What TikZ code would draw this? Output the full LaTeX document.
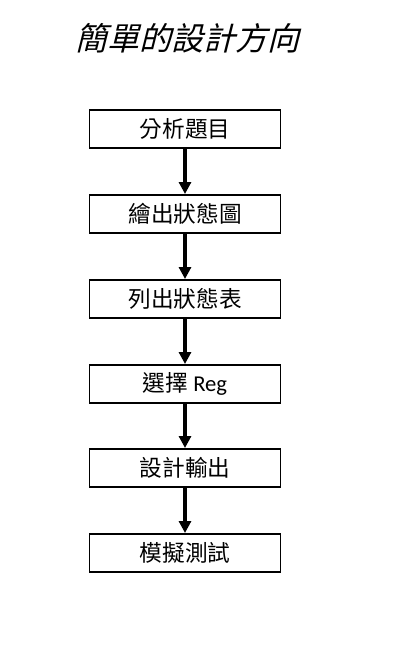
\documentclass[tikz,border=0pt]{standalone}
\usepackage{fontspec}
\newfontfamily\cjk{Noto Sans CJK TC}
\newfontfamily\cjkslant[FakeSlant=0.25]{Noto Sans CJK TC}
\newfontfamily\latinsans{Carlito}
\usetikzlibrary{arrows.meta}
\tikzset{
  stepbox/.style={draw=black, line width=0.9pt, minimum width=143.25pt, minimum height=28.5pt, inner sep=0pt, font=\cjk\fontsize{17}{19}\selectfont, fill=white},
  flow/.style={line width=3pt, -{Triangle[width=9pt,length=9pt]}, shorten >=0.3pt}
}
\begin{document}
\begin{tikzpicture}[x=0.75pt,y=-0.75pt]
\useasboundingbox (0,0) rectangle (407,661);
\fill[white] (0,0) rectangle (407,661);
\node[font=\cjkslant\fontsize{24}{27}\selectfont, anchor=center] (title) at (187,38) {簡單的設計方向};
\node[stepbox] (s1) at (185,129) {分析題目};
\node[stepbox] (s2) at (185,214) {繪出狀態圖};
\node[stepbox] (s3) at (185,299) {列出狀態表};
\node[stepbox] (s4) at (185,384) {選擇 {\latinsans Reg}};
\node[stepbox] (s5) at (185,468) {設計輸出};
\node[stepbox] (s6) at (185,553) {模擬測試};
\draw[flow] (s1) -- (s2);
\draw[flow] (s2) -- (s3);
\draw[flow] (s3) -- (s4);
\draw[flow] (s4) -- (s5);
\draw[flow] (s5) -- (s6);
\end{tikzpicture}
\end{document}
